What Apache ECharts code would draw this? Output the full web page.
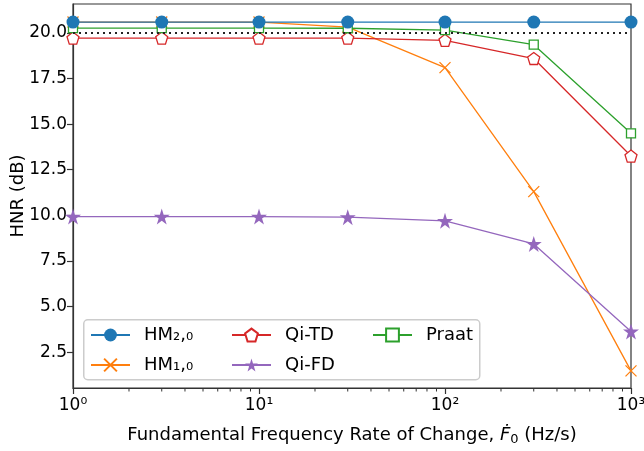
<!DOCTYPE html>
<html><head><meta charset="utf-8">
<script src="https://cdn.jsdelivr.net/npm/echarts@6/dist/echarts.min.js"></script>
<style>html,body{margin:0;padding:0;background:#fff}#c{width:644px;height:451px}</style>
</head><body><div id="c"></div>
<script>
const xValues = [1, 3, 10, 30, 100, 300, 1000];
const hm20 = [20.6, 20.6, 20.6, 20.6, 20.6, 20.6, 20.6];
const hm10 = [20.6, 20.6, 20.6, 20.32, 18.1, 11.3, 1.47];
const qiTD = [19.72, 19.72, 19.72, 19.72, 19.6, 18.6, 13.25];
const qiFD = [9.93, 9.93, 9.93, 9.9, 9.7, 8.43, 3.63];
const praat = [20.27, 20.27, 20.27, 20.26, 20.16, 19.36, 14.5];
const yTicks = [2.5, 5, 7.5, 10, 12.5, 15, 17.5, 20];
const xMajor = [1, 10, 100, 1000];
const xMajorLabels = ['10⁰', '10¹', '10²', '10³'];
const xMinor = [2,3,4,5,6,7,8,9,20,30,40,50,60,70,80,90,200,300,400,500,600,700,800,900];
const threshold = 20;
const names = ['HM₂,₀', 'HM₁,₀', 'Qi-TD', 'Qi-FD', 'Praat'];
const yMin = 0.53, yMax = 21.59;

const C = {blue:'#1f77b4', orange:'#ff7f0e', green:'#2ca02c', red:'#d62728', purple:'#9467bd'};
const PENT = 'path://M0,-1L0.951,-0.309L0.588,0.809L-0.588,0.809L-0.951,-0.309Z';
const STAR = 'path://M0,-1L0.2245,-0.309L0.951,-0.309L0.3633,0.118L0.5878,0.809L0,0.382L-0.5878,0.809L-0.3633,0.118L-0.951,-0.309L-0.2245,-0.309Z';
const XMARK = 'path://M0,0L1,1M1,0L0,1';

const pairs = a => xValues.map((x, i) => [x, a[i]]);
const font = 'DejaVu Sans';
const legendCommon = {orient: 'vertical', top: 326, itemWidth: 39, itemHeight: 16, itemGap: 12, padding: 0,
  textStyle: {fontSize: 18, color: '#000', fontFamily: font, padding: [0,0,0,9]}, z: 20};

const chart = echarts.init(document.getElementById('c'), null, {renderer:'canvas'});
chart.setOption({
  animation: false,
  textStyle: {fontFamily: font},
  grid: {left: 73, right: 13, top: 4, bottom: 63, containLabel: false, outerBoundsMode: 'none',
         show: true, borderColor: '#333', borderWidth: 1.2, backgroundColor: 'transparent'},
  xAxis: {
    type: 'log', logBase: 10, min: 1, max: 1000,
    axisLine: {show: true, lineStyle: {color: '#333', width: 1.2}},
    axisTick: {show: true, length: 6, inside: false, customValues: xMajor, lineStyle: {color: '#333', width: 1.2}},
    axisLabel: {show: true, customValues: xMajor, fontSize: 17, color: '#000', margin: 9,
      formatter: v => xMajorLabels[xMajor.findIndex(m => Math.abs(m - v) < 1e-6)] || ''},
    splitLine: {show: false}, minorTick: {show: false},
    name: 'Fundamental Frequency Rate of Change, {i|Ḟ}{s|0} (Hz/s)',
    nameLocation: 'middle', nameGap: 37, nameMoveOverlap: false,
    nameTextStyle: {fontSize: 18, color: '#000', fontFamily: font,
      rich: {i: {fontSize: 18, fontStyle: 'italic', color: '#000', fontFamily: font},
             s: {fontSize: 13, color: '#000', padding: [8, 0, 0, 0], fontFamily: font}}}
  },
  yAxis: {
    type: 'value', min: yMin, max: yMax,
    axisLine: {show: true, lineStyle: {color: '#333', width: 1.2}},
    axisTick: {show: true, length: 6, customValues: yTicks, lineStyle: {color: '#333', width: 1.2}},
    axisLabel: {customValues: yTicks, fontSize: 17, color: '#000', margin: 6, formatter: v => v.toFixed(1)},
    splitLine: {show: false},
    name: 'HNR (dB)', nameLocation: 'middle', nameGap: 46, nameMoveOverlap: false,
    nameTextStyle: {fontSize: 18, color: '#000', fontFamily: font}
  },
  legend: [
    Object.assign({data: [names[0], names[1]], left: 90}, legendCommon),
    Object.assign({data: [names[2], names[3]], left: 231}, legendCommon),
    Object.assign({data: [names[4]], left: 372}, legendCommon)
  ],
  graphic: [{
    type: 'rect', left: 83, top: 319, z: 15,
    shape: {width: 396, height: 60, r: 4},
    style: {fill: 'rgba(255,255,255,0.8)', stroke: '#cccccc', lineWidth: 1.5}
  }],
  series: [
    {name: names[0], type: 'line', data: pairs(hm20), z: 6,
     symbol: 'circle', symbolSize: 13, showAllSymbol: true,
     itemStyle: {color: C.blue}, lineStyle: {color: C.blue, width: 1.3},
     markLine: {silent: true, symbol: ['none','none'], label: {show: false},
       lineStyle: {color: '#222', type: [2, 4], width: 2}, data: [{yAxis: threshold}]}},
    {name: names[1], type: 'line', data: pairs(hm10), z: 3,
     symbol: XMARK, symbolSize: 11, showAllSymbol: true,
     itemStyle: {color: 'rgba(0,0,0,0)', borderColor: C.orange, borderWidth: 1.3},
     lineStyle: {color: C.orange, width: 1.3}},
    {name: names[2], type: 'line', data: pairs(qiTD), z: 3,
     symbol: PENT, symbolSize: 12, showAllSymbol: true,
     itemStyle: {color: '#fff', borderColor: C.red, borderWidth: 1.3},
     lineStyle: {color: C.red, width: 1.3}},
    {name: names[3], type: 'line', data: pairs(qiFD), z: 3,
     symbol: STAR, symbolSize: 16, showAllSymbol: true,
     itemStyle: {color: C.purple}, lineStyle: {color: C.purple, width: 1.3}},
    {name: names[4], type: 'line', data: pairs(praat), z: 4,
     symbol: 'rect', symbolSize: 9, showAllSymbol: true,
     itemStyle: {color: '#fff', borderColor: C.green, borderWidth: 1.3},
     lineStyle: {color: C.green, width: 1.3}},
    {name: 'minorTicks', type: 'custom', data: xMinor.map(v => [v, yMin]), clip: false, silent: true, z: 2,
     renderItem: (params, api) => {
       const p = api.coord([api.value(0), api.value(1)]);
       return {type: 'line', shape: {x1: p[0], y1: p[1], x2: p[0], y2: p[1] + 3.5},
               style: {stroke: '#333', lineWidth: 1}};
     }}
  ]
});
</script></body></html>
